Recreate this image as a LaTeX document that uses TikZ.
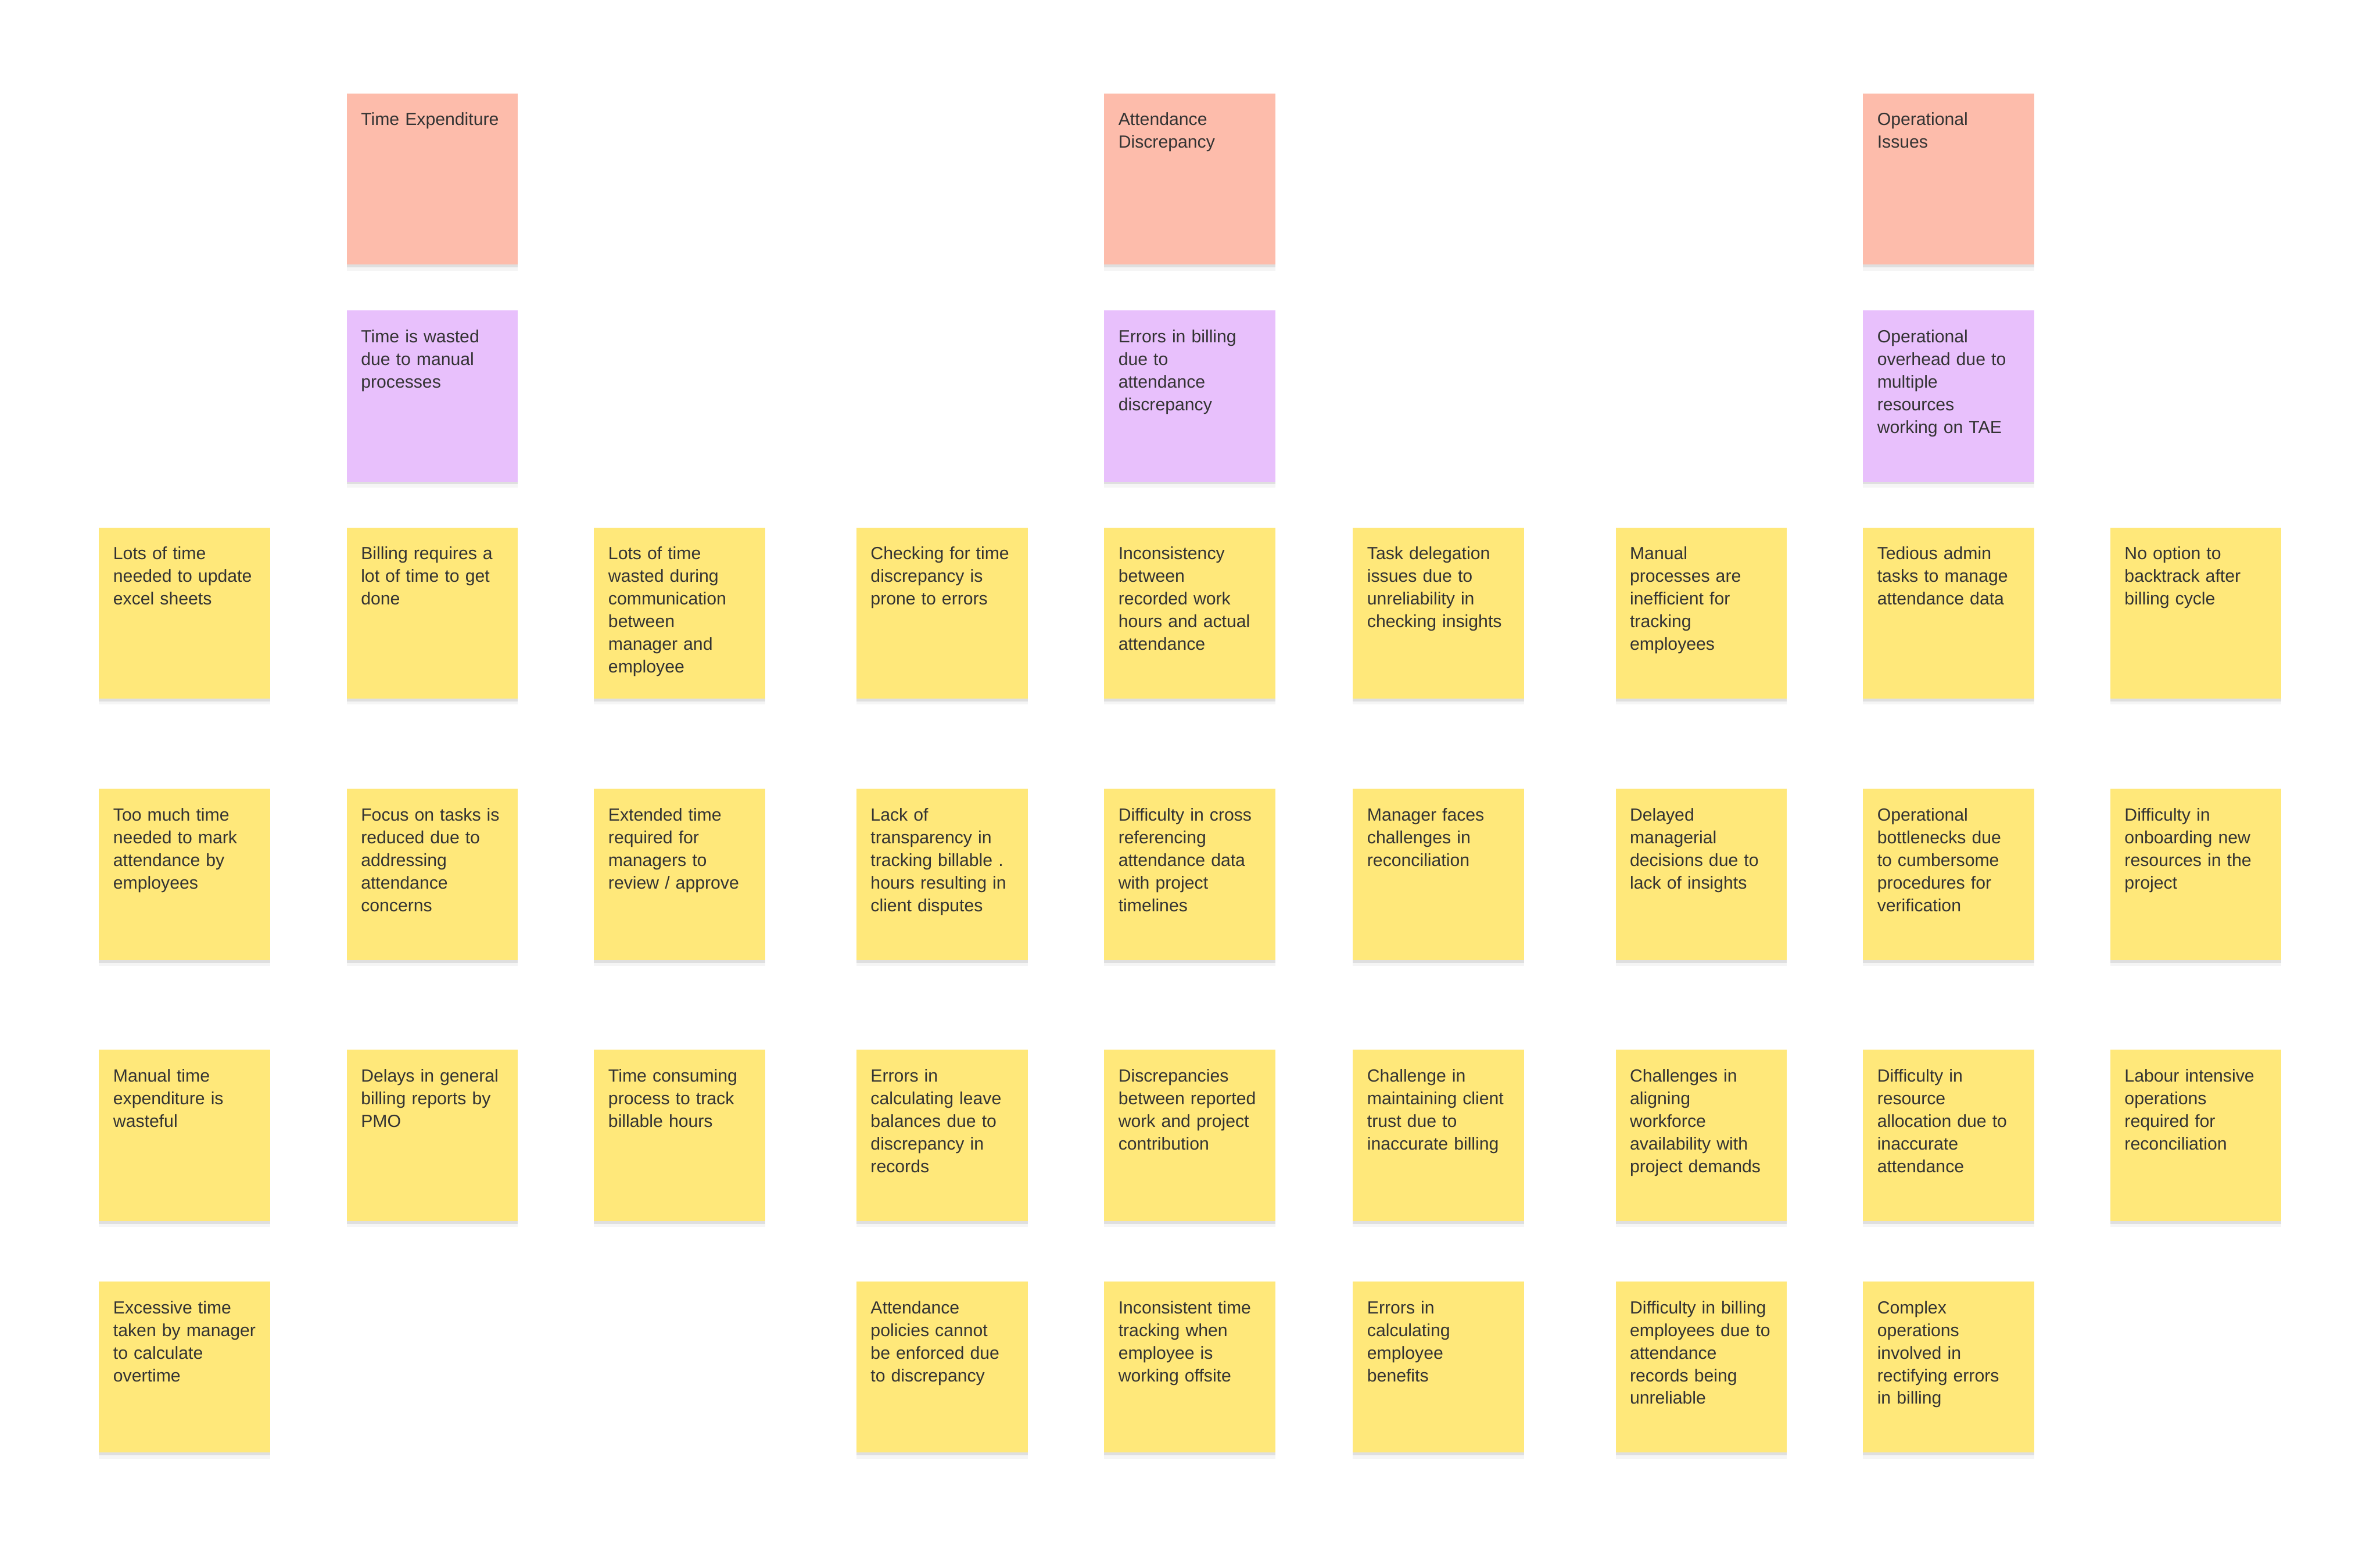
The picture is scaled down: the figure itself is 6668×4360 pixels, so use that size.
\documentclass[tikz,border=0pt]{standalone}
\usepackage{fontspec}
\setmainfont{Liberation Sans}
\usetikzlibrary{shadows}

\definecolor{notepink}{HTML}{FDBCAB}
\definecolor{notepurple}{HTML}{E8C0FC}
\definecolor{noteyellow}{HTML}{FFE87A}
\definecolor{notetext}{HTML}{333333}

\begin{document}
\begin{tikzpicture}[x=0.005cm, y=-0.005cm,
    every node/.style={font=\fontsize{7}{9.03}\selectfont, text=notetext},
    note/.style={anchor=north west, align=left, inner xsep=0.2cm, inner ysep=0pt,
        text width=2.0cm, text height=0.45cm, text depth=1.95cm,
        drop shadow={shadow xshift=0pt, shadow yshift=-2.4pt, opacity=0.04, fill=black},
        drop shadow={shadow xshift=0pt, shadow yshift=-1.1pt, opacity=0.09, fill=black}},
    cat/.style={note, fill=notepink},
    sub/.style={note, fill=notepurple},
    pain/.style={note, fill=noteyellow}]
    \useasboundingbox (0,0) rectangle (6668,4360);

    % Categories
    \node[cat] (te) at (970,260) {Time Expenditure};
    \node[cat] (ad) at (3092,260) {Attendance\\Discrepancy};
    \node[cat] (oi) at (5218,260) {Operational\\Issues};

    % Summaries
    \node[sub] (tw) at (970,868) {Time is wasted\\due to manual\\processes};
    \node[sub] (eb) at (3092,868) {Errors in billing\\due to\\attendance\\discrepancy};
    \node[sub] (oo) at (5218,868) {Operational\\overhead due to\\multiple\\resources\\working on TAE};

    % Row 1
    \node[pain] (r1c1) at (276,1476) {Lots of time\\needed to update\\excel sheets};
    \node[pain] (r1c2) at (970,1476) {Billing requires a\\lot of time to get\\done};
    \node[pain] (r1c3) at (1663,1476) {Lots of time\\wasted during\\communication\\between\\manager and\\employee};
    \node[pain] (r1c4) at (2398,1476) {Checking for time\\discrepancy is\\prone to errors};
    \node[pain] (r1c5) at (3092,1476) {Inconsistency\\between\\recorded work\\hours and actual\\attendance};
    \node[pain] (r1c6) at (3789,1476) {Task delegation\\issues due to\\unreliability in\\checking insights};
    \node[pain] (r1c7) at (4525,1476) {Manual\\processes are\\inefficient for\\tracking\\employees};
    \node[pain] (r1c8) at (5218,1476) {Tedious admin\\tasks to manage\\attendance data};
    \node[pain] (r1c9) at (5911,1476) {No option to\\backtrack after\\billing cycle};

    % Row 2
    \node[pain] (r2c1) at (276,2208) {Too much time\\needed to mark\\attendance by\\employees};
    \node[pain] (r2c2) at (970,2208) {Focus on tasks is\\reduced due to\\addressing\\attendance\\concerns};
    \node[pain] (r2c3) at (1663,2208) {Extended time\\required for\\managers to\\review / approve};
    \node[pain] (r2c4) at (2398,2208) {Lack of\\transparency in\\tracking billable .\\hours resulting in\\client disputes};
    \node[pain] (r2c5) at (3092,2208) {Difficulty in cross\\referencing\\attendance data\\with project\\timelines};
    \node[pain] (r2c6) at (3789,2208) {Manager faces\\challenges in\\reconciliation};
    \node[pain] (r2c7) at (4525,2208) {Delayed\\managerial\\decisions due to\\lack of insights};
    \node[pain] (r2c8) at (5218,2208) {Operational\\bottlenecks due\\to cumbersome\\procedures for\\verification};
    \node[pain] (r2c9) at (5911,2208) {Difficulty in\\onboarding new\\resources in the\\project};

    % Row 3
    \node[pain] (r3c1) at (276,2939) {Manual time\\expenditure is\\wasteful};
    \node[pain] (r3c2) at (970,2939) {Delays in general\\billing reports by\\PMO};
    \node[pain] (r3c3) at (1663,2939) {Time consuming\\process to track\\billable hours};
    \node[pain] (r3c4) at (2398,2939) {Errors in\\calculating leave\\balances due to\\discrepancy in\\records};
    \node[pain] (r3c5) at (3092,2939) {Discrepancies\\between reported\\work and project\\contribution};
    \node[pain] (r3c6) at (3789,2939) {Challenge in\\maintaining client\\trust due to\\inaccurate billing};
    \node[pain] (r3c7) at (4525,2939) {Challenges in\\aligning\\workforce\\availability with\\project demands};
    \node[pain] (r3c8) at (5218,2939) {Difficulty in\\resource\\allocation due to\\inaccurate\\attendance};
    \node[pain] (r3c9) at (5911,2939) {Labour intensive\\operations\\required for\\reconciliation};

    % Row 4
    \node[pain] (r4c1) at (276,3588) {Excessive time\\taken by manager\\to calculate\\overtime};
    \node[pain] (r4c4) at (2398,3588) {Attendance\\policies cannot\\be enforced due\\to discrepancy};
    \node[pain] (r4c5) at (3092,3588) {Inconsistent time\\tracking when\\employee is\\working offsite};
    \node[pain] (r4c6) at (3789,3588) {Errors in\\calculating\\employee\\benefits};
    \node[pain] (r4c7) at (4525,3588) {Difficulty in billing\\employees due to\\attendance\\records being\\unreliable};
    \node[pain] (r4c8) at (5218,3588) {Complex\\operations\\involved in\\rectifying errors\\in billing};
\end{tikzpicture}
\end{document}
